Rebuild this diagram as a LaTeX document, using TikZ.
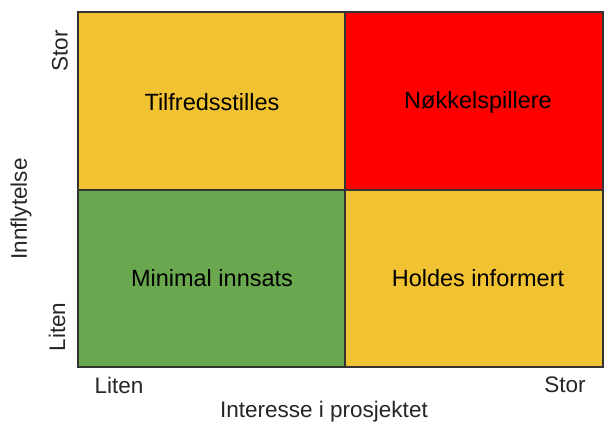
\documentclass[tikz,border=0pt]{standalone}
\usepackage{fontspec}
\setmainfont{Liberation Sans}
\definecolor{qyellow}{HTML}{F1C232}
\definecolor{qred}{HTML}{FF0000}
\definecolor{qgreen}{HTML}{6AA84F}
\definecolor{qborder}{HTML}{333333}
\begin{document}
\begin{tikzpicture}[x=1pt,y=-1pt,
  quad/.style={draw=qborder,line width=1.2pt},
  qlabel/.style={font=\fontsize{23.5}{26}\selectfont,text=black},
  axlabel/.style={font=\fontsize{22.5}{25}\selectfont,text=black!85}]
\useasboundingbox (0,0) rectangle (605,428);
\fill[white] (0,0) rectangle (605,428);
\path[quad,fill=qyellow] (78,12) rectangle (345,190);
\path[quad,fill=qred] (345,12) rectangle (603,190);
\path[quad,fill=qgreen] (78,190) rectangle (345,367);
\path[quad,fill=qyellow] (345,190) rectangle (603,367);
\node[qlabel] (tl) at (212,102) {Tilfredsstilles};
\node[qlabel] (tr) at (478,102) {Nøkkelspillere};
\node[qlabel] (bl) at (212,278) {Minimal innsats};
\node[qlabel] (br) at (478,278) {Holdes informert};
\node[axlabel] (xl) at (119,385) {Liten};
\node[axlabel] (xs) at (565,385) {Stor};
\node[axlabel] (xt) at (324,412) {Interesse i prosjektet};
\node[axlabel,rotate=90] (ys) at (60,51) {Stor};
\node[axlabel,rotate=90] (yl) at (57,327) {Liten};
\node[axlabel,rotate=90] (yt) at (21,209) {Innflytelse};
\end{tikzpicture}
\end{document}
